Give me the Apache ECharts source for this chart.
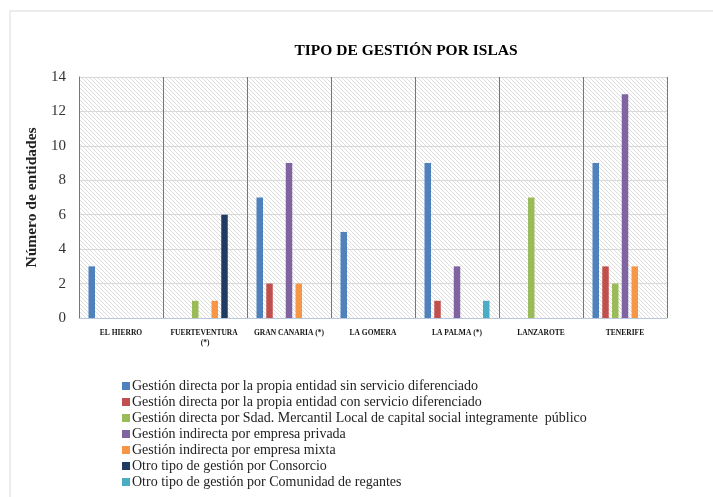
<!DOCTYPE html>
<html>
<head>
<meta charset="utf-8">
<script src="https://cdn.jsdelivr.net/npm/echarts@6/dist/echarts.min.js"></script>
<style>
    html, body { margin: 0; padding: 0; background: #fff; }
    #chart { width: 713px; height: 497px; }
</style>
</head>
<body>
<div id="chart"></div>
<script>
// Islands (x axis)
const islands = ['EL HIERRO', 'FUERTEVENTURA (*)', 'GRAN CANARIA (*)', 'LA GOMERA', 'LA PALMA (*)', 'LANZAROTE', 'TENERIFE'];

// One array per management type, in island order
const directaSinServicio = [3, 0, 7, 5, 9, 0, 9];
const directaConServicio = [0, 0, 2, 0, 1, 0, 3];
const directaSdadMercantil = [0, 1, 0, 0, 0, 7, 2];
const indirectaPrivada = [0, 0, 9, 0, 3, 0, 13];
const indirectaMixta = [0, 1, 2, 0, 0, 0, 3];
const otroConsorcio = [0, 6, 0, 0, 0, 0, 0];
const otroRegantes = [0, 0, 0, 0, 1, 0, 0];

const seriesNames = [
    'Gestión directa por la propia entidad sin servicio diferenciado',
    'Gestión directa por la propia entidad con servicio diferenciado',
    'Gestión directa por Sdad. Mercantil Local de capital social integramente  público',
    'Gestión indirecta por empresa privada',
    'Gestión indirecta por empresa mixta',
    'Otro tipo de gestión por Consorcio',
    'Otro tipo de gestión por Comunidad de regantes'
];
const seriesValues = [directaSinServicio, directaConServicio, directaSdadMercantil,
    indirectaPrivada, indirectaMixta, otroConsorcio, otroRegantes];
const colors = ['#4F81BD', '#C0504D', '#9BBB59', '#8064A2', '#F79646', '#1F3B63', '#4BACC6'];

// hatched plot background
function makeHatch() {
    const c = document.createElement('canvas');
    c.width = 4;
    c.height = 4;
    const ctx = c.getContext('2d');
    ctx.fillStyle = '#ffffff';
    ctx.fillRect(0, 0, 4, 4);
    ctx.strokeStyle = '#d4d4d4';
    ctx.lineWidth = 0.8;
    ctx.beginPath();
    ctx.moveTo(0, 0); ctx.lineTo(4, 4);
    ctx.moveTo(-1, 3); ctx.lineTo(1, 5);
    ctx.moveTo(3, -1); ctx.lineTo(5, 1);
    ctx.stroke();
    return c;
}

const serif = '"Liberation Serif", serif';
const chart = echarts.init(document.getElementById('chart'));

chart.setOption({
    animation: false,
    backgroundColor: '#fff',
    textStyle: { fontFamily: serif },
    title: {
        text: 'TIPO DE GESTIÓN POR ISLAS',
        left: 401,
        top: 38,
        textAlign: 'center',
        textStyle: { fontFamily: serif, fontSize: 15.5, fontWeight: 'bold', color: '#000' }
    },
    graphic: [{
        type: 'rect',
        shape: { x: 10, y: 11, width: 800, height: 600 },
        style: { fill: 'none', stroke: '#d9d9d9', lineWidth: 1 },
        silent: true
    }],
    grid: {
        left: 79, right: 46, top: 77, bottom: 179,
        show: true,
        backgroundColor: { image: makeHatch(), repeat: 'repeat' },
        borderWidth: 0
    },
    legend: {
        orient: 'vertical',
        left: 122,
        top: 378,
        height: 130,
        padding: 0,
        itemWidth: 8,
        itemHeight: 8,
        itemGap: 0,
        icon: 'rect',
        textStyle: { fontFamily: serif, fontSize: 14, color: '#222', lineHeight: 16, padding: [0, 0, 0, -3] },
        data: seriesNames
    },
    xAxis: {
        type: 'category',
        data: islands,
        axisLine: { show: true, lineStyle: { color: '#b8c8dc', width: 1 } },
        // category separators drawn as full-height inside ticks
        axisTick: { show: true, inside: true, length: 241, interval: 0, lineStyle: { color: '#3f7fd6', width: 1 } },
        splitLine: { show: false },
        axisLabel: {
            interval: 0,
            margin: 10,
            fontFamily: serif,
            fontSize: 7.5,
            fontWeight: 'bold',
            color: '#111',
            width: 77,
            overflow: 'break',
            lineHeight: 10
        }
    },
    yAxis: {
        type: 'value',
        min: 0,
        max: 14,
        interval: 2,
        name: 'Número de entidades',
        nameLocation: 'middle',
        nameGap: 32,
        nameTextStyle: { fontFamily: serif, fontSize: 15.5, fontWeight: 'bold', color: '#222' },
        axisLine: { show: true, lineStyle: { color: '#3f7fd6', width: 1 } },
        axisTick: { show: false },
        axisLabel: { fontFamily: serif, fontSize: 15, color: '#333', margin: 13 },
        splitLine: { lineStyle: { color: '#d9d9d9', width: 1 } }
    },
    series: seriesNames.map((name, i) => ({
        name: name,
        type: 'bar',
        data: seriesValues[i],
        barWidth: 6.5,
        barGap: '50%',
        itemStyle: { color: colors[i] }
    }))
});
</script>
</body>
</html>
